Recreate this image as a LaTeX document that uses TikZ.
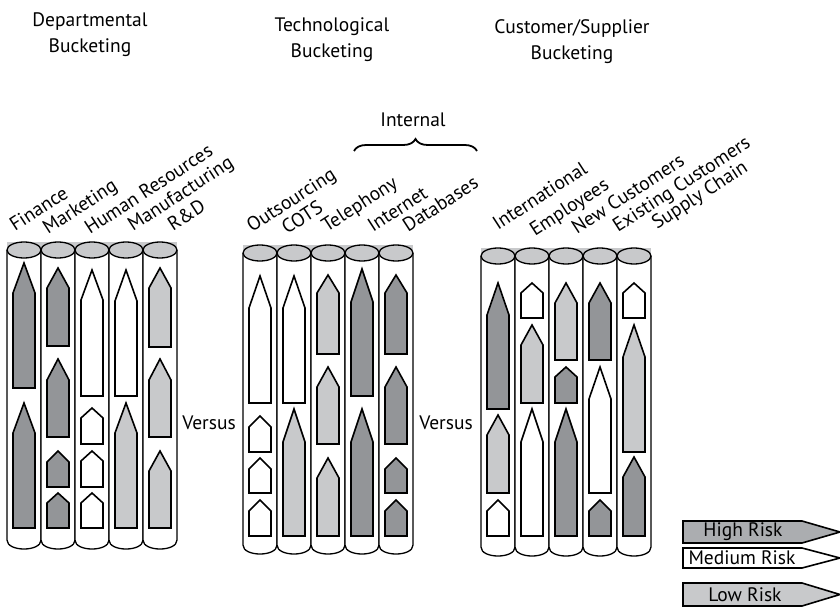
\documentclass[tikz,border=0pt]{standalone}
\usepackage{fontspec}
\setmainfont{PT Sans}
\usetikzlibrary{decorations.pathreplacing}
\definecolor{riskdark}{HTML}{939598}
\definecolor{risklight}{HTML}{C8C9CB}
\definecolor{riskhigh}{HTML}{ABADB0}
\tikzstyle{can}=[draw,fill=white,line width=1.3pt]
\tikzstyle{lid}=[draw,fill=risklight,line width=1.3pt]
\tikzstyle{hirisk}=[draw,fill=riskdark,line width=1.6pt]
\tikzstyle{medrisk}=[draw,fill=white,line width=1.6pt]
\tikzstyle{lorisk}=[draw,fill=risklight,line width=1.6pt]
\tikzstyle{lbl}=[anchor=base west,rotate=33,inner sep=0pt]
\tikzstyle{hdr}=[align=center,inner sep=0pt]

\begin{document}
\begin{tikzpicture}[x=1pt,y=-1pt,font=\fontsize{19.5}{26}\selectfont]
\useasboundingbox (0,0) rectangle (840,607);

% headings
\node [hdr] (dept) at (90,35) {Departmental\\Bucketing};
\node [hdr] (tech) at (332,40) {Technological\\Bucketing};
\node [hdr] (cust) at (572,42) {Customer/Supplier\\Bucketing};

% cylinders
\foreach \gx/\gt/\gb in {7/250/540, 243/253/545, 481/256/547} {
  \fill [risklight] (\gx,\gt-8) rectangle (\gx+170,\gt);
  \foreach \i in {0,...,4} {
    \draw [can] (\gx+34*\i,\gt) -- (\gx+34*\i,\gb)
      .. controls (\gx+34*\i,\gb+12) and (\gx+34*\i+34,\gb+12) .. (\gx+34*\i+34,\gb)
      -- (\gx+34*\i+34,\gt);
    \draw [lid] (\gx+34*\i+17,\gt) ellipse [x radius=17,y radius=8];
  }
}

% risk bars: column/tip/shoulder/bottom/style
\foreach \c/\t/\s/\b/\f in {
  24/263/293/388/hirisk, 24/403/433/528/hirisk,
  58/268/288/346/hirisk, 58/359/380/437/hirisk, 58/451/462/487/hirisk, 58/493/503/528/hirisk,
  92/270/300/396/medrisk, 92/408/418/444/medrisk, 92/451/461/487/medrisk, 92/493/503/528/medrisk,
  126/270/301/396/medrisk, 126/403/433/528/lorisk,
  160/268/288/347/lorisk, 160/359/380/437/lorisk, 160/451/471/528/lorisk,
  260/276/308/403/medrisk, 260/416/427/452/medrisk, 260/458/469/493/medrisk, 260/500/511/536/medrisk,
  294/276/308/403/medrisk, 294/409/442/536/lorisk,
  328/275/293/354/lorisk, 328/367/387/444/lorisk, 328/458/478/536/lorisk,
  362/269/302/396/hirisk, 362/409/442/536/hirisk,
  396/275/293/354/hirisk, 396/367/387/444/hirisk, 396/458/469/493/hirisk, 396/500/511/536/hirisk,
  498/283/315/409/hirisk, 498/415/435/493/lorisk, 498/500/511/536/medrisk,
  532/283/293/318/medrisk, 532/325/345/403/lorisk, 532/409/442/536/medrisk,
  566/283/303/360/lorisk, 566/367/377/403/hirisk, 566/409/442/536/hirisk,
  600/283/303/360/hirisk, 600/367/399/493/medrisk, 600/500/511/536/hirisk,
  634/283/293/318/medrisk, 634/325/357/452/lorisk, 634/457/477/536/hirisk} {
  \draw [\f] (\c,\t) -- (\c+11,\s) -- (\c+11,\b) -- (\c-11,\b) -- (\c-11,\s) -- cycle;
}

% column labels
\node [lbl] (fin) at (15,232) {Finance};
\node [lbl] (mkt) at (48,235) {Marketing};
\node [lbl] (hr)  at (90,235) {Human Resources};
\node [lbl] (man) at (133,232) {Manufacturing};
\node [lbl] (rd)  at (173,232) {R\&D};
\node [lbl] (out) at (252,233) {Outsourcing};
\node [lbl] (cots) at (287,235) {COTS};
\node [lbl] (tel) at (327,233) {Telephony};
\node [lbl] (inet) at (373,233) {Internet};
\node [lbl] (db)  at (408,233) {Databases};
\node [lbl] (intl) at (498,231) {International};
\node [lbl] (emp) at (535,237) {Employees};
\node [lbl] (new) at (577,235) {New Customers};
\node [lbl] (ext) at (618,233) {Existing Customers};
\node [lbl] (sup) at (657,230) {Supply Chain};

% internal brace
\coordinate (bl) at (354,151);
\coordinate (br) at (477,151);
\draw [line width=1.8pt,decorate,decoration={brace,amplitude=12pt}] (bl) -- (br);
\node (internal) at (413,120) {Internal};

\node (vs1) at (209,423) {Versus};
\node (vs2) at (446,423) {Versus};

% legend
\draw [hirisk,fill=riskhigh] (683,521) -- (802,521) -- (840,532) -- (802,543) -- (683,543) -- cycle;
\draw [medrisk] (683,548) -- (802,548) -- (840,558) -- (802,568) -- (683,568) -- cycle;
\draw [lorisk] (683,583) -- (802,583) -- (840,594.5) -- (802,606) -- (683,606) -- cycle;
\node (high) at (743,532) {High Risk};
\node (med)  at (742,558) {Medium Risk};
\node (low)  at (745,595) {Low Risk};
\end{tikzpicture}
\end{document}
